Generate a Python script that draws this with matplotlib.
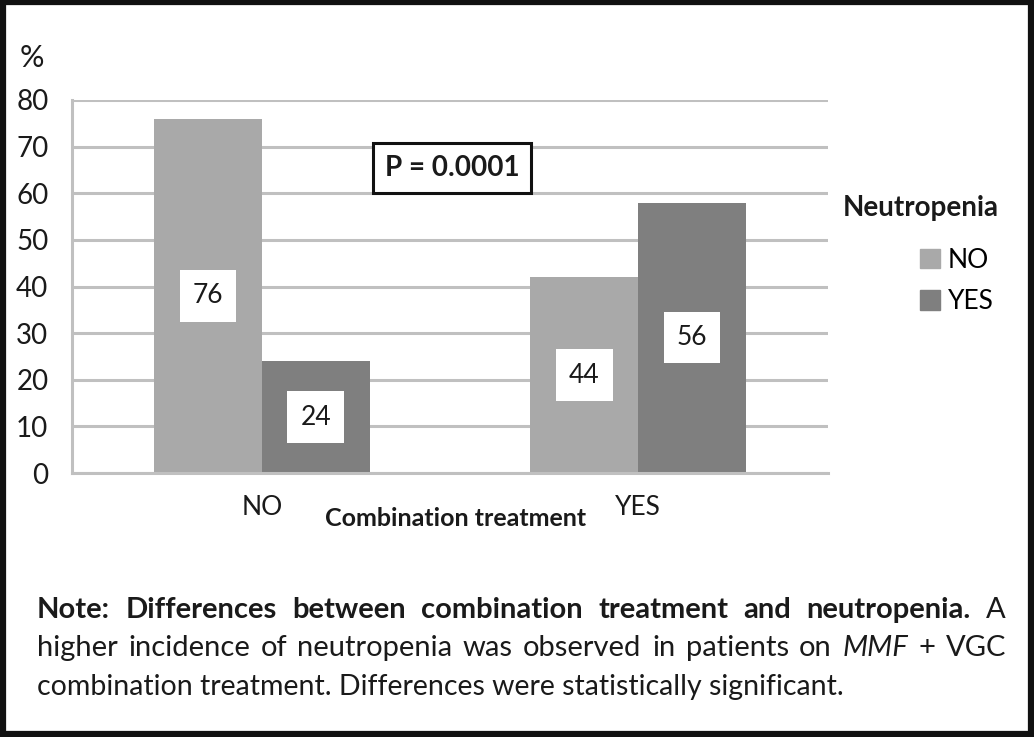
import matplotlib
matplotlib.use("Agg")
import matplotlib.pyplot as plt
from matplotlib.patches import Rectangle, Patch

plt.rcParams['font.family'] = ['Lato', 'DejaVu Sans']

# data
groups = ["NO", "YES"]
series = ["NO", "YES"]
values_no = [76, 42]
values_yes = [24, 58]
labels_no = ["76", "44"]
labels_yes = ["24", "56"]
yticks = [0, 10, 20, 30, 40, 50, 60, 70, 80]

W, H = 1034, 737
fig = plt.figure(figsize=(W / 100, H / 100), dpi=100)


def px(x, y):
    return x / W, 1 - y / H


light = "#a9a9a9"
dark = "#7f7f7f"
grid = "#c0c0c0"
ink = "#1a1a1a"

ax = fig.add_axes([72 / W, 1 - 473 / H, 756 / W, 373 / H])
xs = list(range(len(groups)))
bw = 0.287
ax.bar([x - bw / 2 for x in xs], values_no, bw, color=light, zorder=2, label=series[0])
ax.bar([x + bw / 2 for x in xs], values_yes, bw, color=dark, zorder=2, label=series[1])

for i in xs:
    for off, v, lab in [(-bw / 2, values_no[i], labels_no[i]), (bw / 2, values_yes[i], labels_yes[i])]:
        ax.text(i + off, v / 2, lab, ha="center", va="center", fontsize=19,
                color=ink, zorder=3,
                bbox=dict(boxstyle="square,pad=0.5", fc="white", ec="none"))

ax.set_xlim(-0.505, 1.505)
ax.set_ylim(0, 80)
ax.set_yticks(yticks)
ax.set_yticklabels([str(t) for t in yticks], fontsize=20, color=ink)
ax.set_xticks(xs)
ax.set_xticklabels(groups, fontsize=19, color=ink)
ax.tick_params(axis="both", length=0)
ax.tick_params(axis="y", pad=17)
ax.tick_params(axis="x", pad=16)
ax.yaxis.grid(True, color=grid, linewidth=2.2, zorder=0)
ax.set_axisbelow(True)
for s in ["top", "right"]:
    ax.spines[s].set_visible(False)
for s in ["left", "bottom"]:
    ax.spines[s].set_color(grid)
    ax.spines[s].set_linewidth(2.2)

fig.text(*px(20, 58), "%", fontsize=22, va="center", ha="left", color=ink)
fig.text(*px(456, 518), "Combination treatment", fontsize=18, fontweight="bold",
         ha="center", va="center", color=ink)

fig.text(*px(452, 168), "P = 0.0001", fontsize=20, fontweight="bold", ha="center",
         va="center", color=ink,
         bbox=dict(boxstyle="square,pad=0.42", fc="white", ec="#111111", lw=2.2))

fig.text(*px(843, 208), "Neutropenia", fontsize=20, fontweight="bold", ha="left",
         va="center", color=ink)
handles = [Patch(color=light, label=series[0]), Patch(color=dark, label=series[1])]
fig.legend(handles=handles, loc="upper left", bbox_to_anchor=px(896, 224), frameon=False,
           handlelength=0.75, handleheight=0.75, handletextpad=0.3,
           labelspacing=0.62, prop=dict(size=19))

# caption, justified lines
line1 = [("Note:", "bold"), ("Differences", "bold"), ("between", "bold"),
         ("combination", "bold"), ("treatment", "bold"), ("and", "bold"),
         ("neutropenia.", "bold"), ("A", "normal")]
line2 = [(w, "normal") for w in "higher incidence of neutropenia was observed in patients on".split()] + \
        [("MMF", "italic"), ("+", "normal"), ("VGC", "normal")]
line3 = "combination treatment. Differences were statistically significant."

renderer = fig.canvas.get_renderer()


def justify(words, y, x0=37, x1=1006, size=21):
    objs = []
    total = 0
    for w, wt in words:
        style = "italic" if wt == "italic" else "normal"
        weight = "bold" if wt == "bold" else "normal"
        t = fig.text(0, 0, w, fontsize=size, fontweight=weight, fontstyle=style,
                     color=ink, va="baseline", ha="left")
        wpx = t.get_window_extent(renderer).width
        objs.append((t, wpx))
        total += wpx
    gap = (x1 - x0 - total) / (len(words) - 1)
    x = x0
    for t, wpx in objs:
        t.set_position(px(x, y))
        x += wpx + gap


justify(line1, 618)
justify(line2, 656)
fig.text(*px(37, 695), line3, fontsize=20.5, color=ink, va="baseline", ha="left")

fig.patches.append(Rectangle((0.0025, 0.004), 0.995, 0.993, transform=fig.transFigure,
                             fill=False, ec="#111111", lw=4.5))

fig.savefig("out.png", dpi=100)
